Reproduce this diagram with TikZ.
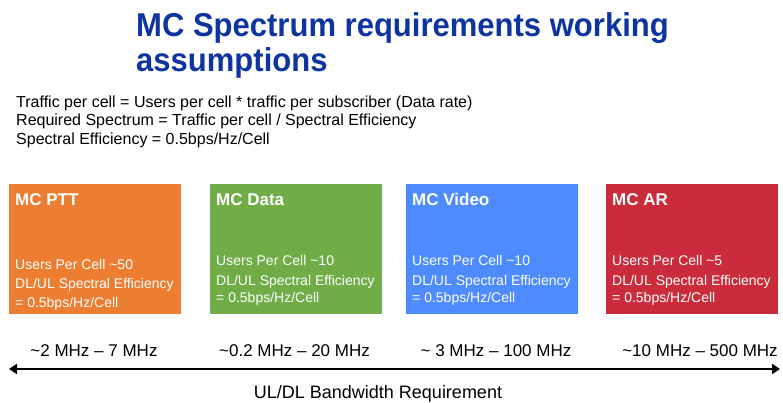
\documentclass[tikz,border=0pt]{standalone}
\usepackage{fontspec}
\setmainfont{Liberation Sans}
\newfontfamily\headfont[FakeStretch=0.94]{Liberation Sans}
\usetikzlibrary{arrows.meta, positioning}
\definecolor{headblue}{RGB}{14,52,160}
\definecolor{pttorange}{RGB}{237,125,49}
\definecolor{datagreen}{RGB}{112,173,71}
\definecolor{videoblue}{RGB}{77,139,255}
\definecolor{arred}{RGB}{203,44,60}
\tikzstyle{heading} = [anchor=base west, inner sep=0pt, text=headblue, font=\headfont\fontsize{33}{36}\selectfont\bfseries]
\tikzstyle{formula} = [anchor=base west, inner sep=0pt, font=\fontsize{16}{19}\selectfont]
\tikzstyle{card} = [draw=none, anchor=north west, minimum width=172pt, minimum height=130pt, inner sep=0pt]
\tikzstyle{cardtitle} = [anchor=base west, inner sep=0pt, text=white, font=\fontsize{17}{20}\selectfont\bfseries]
\tikzstyle{cardinfo} = [anchor=base west, inner sep=0pt, text=white, align=left, font=\fontsize{14}{17}\selectfont]
\tikzstyle{band} = [anchor=base, inner sep=0pt, font=\fontsize{17}{20}\selectfont]
\tikzstyle{bwarrow} = [line width=2pt, {Triangle[length=8pt,width=10pt]}-{Triangle[length=8pt,width=10pt]}]

\begin{document}
\begin{tikzpicture}[x=1pt, y=-1pt]
    \useasboundingbox (0,0) rectangle (783,403);
    % heading
    \node[heading] (head1) at (136,37) {MC Spectrum requirements working};
    \node[heading] (head2) at (136,72) {assumptions};
    % formulas
    \node[formula] (eq1) at (16,107.5) {Traffic per cell = Users per cell * traffic per subscriber (Data rate)};
    \node[formula] (eq2) at (16,126) {Required Spectrum = Traffic per cell / Spectral Efficiency};
    \node[formula] (eq3) at (16,144.5) {Spectral Efficiency = 0.5bps/Hz/Cell};
    % service cards
    \node[card, fill=pttorange] (ptt) at (9,184) {};
    \node[card, fill=datagreen] (data) at (210,184) {};
    \node[card, fill=videoblue] (video) at (406,184) {};
    \node[card, fill=arred] (ar) at (606,184) {};
    \node[cardtitle] (pttname) at (15,205) {MC PTT};
    \node[cardtitle] (dataname) at (216,205) {MC Data};
    \node[cardtitle] (videoname) at (412,205) {MC Video};
    \node[cardtitle] (arname) at (612,205) {MC AR};
    % info text sits on the baseline of its last line
    \node[cardinfo, font=\fontsize{14}{18.5}\selectfont] (pttinfo) at (15,307) {Users Per Cell \textasciitilde50\\[1pt] DL/UL Spectral Efficiency\\ = 0.5bps/Hz/Cell};
    \node[cardinfo] (datainfo) at (216,302) {Users Per Cell \textasciitilde10\\[3pt] DL/UL Spectral Efficiency\\ = 0.5bps/Hz/Cell};
    \node[cardinfo] (videoinfo) at (412,302) {Users Per Cell \textasciitilde10\\[3pt] DL/UL Spectral Efficiency\\ = 0.5bps/Hz/Cell};
    \node[cardinfo] (arinfo) at (612,302) {Users Per Cell \textasciitilde5\\[3pt] DL/UL Spectral Efficiency\\ = 0.5bps/Hz/Cell};
    % bandwidth ranges
    \node[band] (pttbw) at (94,356) {\textasciitilde2 MHz \textendash\ 7 MHz};
    \node[band] (databw) at (294.5,356) {\textasciitilde0.2 MHz \textendash\ 20 MHz};
    \node[band] (videobw) at (496,356) {\textasciitilde\ 3 MHz \textendash\ 100 MHz};
    \node[band] (arbw) at (700,356) {\textasciitilde10 MHz \textendash\ 500 MHz};
    \coordinate (bwleft) at (9,369);
    \coordinate (bwright) at (780,369);
    \draw[bwarrow] (bwleft) -- (bwright);
    \node[band, font=\fontsize{18}{21}\selectfont] (bwname) at (378,398) {UL/DL Bandwidth Requirement};
\end{tikzpicture}
\end{document}
